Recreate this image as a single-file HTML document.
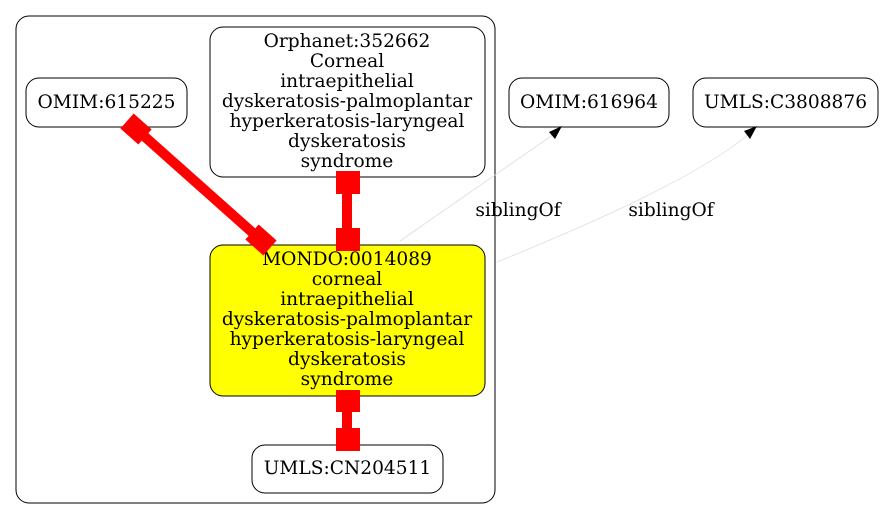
<!DOCTYPE html>
<html><head><style>
html,body{margin:0;padding:0;background:#fff;}
svg text{font-family:"DejaVu Serif",serif;font-size:18.6px;fill:#000;}
</style></head><body>
<svg width="885" height="520" viewBox="0 0 885 520" xmlns="http://www.w3.org/2000/svg">
<rect x="16" y="16" width="479" height="487" rx="13" fill="none" stroke="#000" stroke-width="1"/>
<rect x="26" y="78" width="161" height="49" rx="13" fill="#fff" stroke="#000"/>
<text x="106.5" y="108" text-anchor="middle">OMIM:615225</text>
<rect x="210" y="27" width="275" height="150" rx="13" fill="#fff" stroke="#000"/>
<g text-anchor="middle">
<text x="347" y="47">Orphanet:352662</text>
<text x="347" y="67">Corneal</text>
<text x="347" y="87">intraepithelial</text>
<text x="347" y="107">dyskeratosis-palmoplantar</text>
<text x="347" y="127">hyperkeratosis-laryngeal</text>
<text x="347" y="147">dyskeratosis</text>
<text x="347" y="167">syndrome</text>
</g>
<rect x="210" y="245" width="275" height="151" rx="13" fill="#ffff00" stroke="#000"/>
<g text-anchor="middle">
<text x="347" y="265">MONDO:0014089</text>
<text x="347" y="285">corneal</text>
<text x="347" y="305">intraepithelial</text>
<text x="347" y="325">dyskeratosis-palmoplantar</text>
<text x="347" y="345">hyperkeratosis-laryngeal</text>
<text x="347" y="365">dyskeratosis</text>
<text x="347" y="385">syndrome</text>
</g>
<rect x="252" y="445" width="191" height="48" rx="13" fill="#fff" stroke="#000"/>
<text x="347.5" y="474" text-anchor="middle">UMLS:CN204511</text>
<rect x="509" y="78" width="160" height="49" rx="13" fill="#fff" stroke="#000"/>
<text x="589" y="108" text-anchor="middle">OMIM:616964</text>
<rect x="693" y="78" width="185" height="49" rx="13" fill="#fff" stroke="#000"/>
<text x="785.5" y="108" text-anchor="middle">UMLS:C3808876</text>
<line x1="135" y1="128" x2="262" y2="241" stroke="#f00" stroke-width="10"/>
<rect x="-12" y="-10" width="24" height="20" fill="#f00" transform="translate(136,129) rotate(41.6)"/>
<rect x="-12" y="-10" width="24" height="20" fill="#f00" transform="translate(261,240) rotate(41.6)"/>
<line x1="347" y1="180" x2="347" y2="240" stroke="#f00" stroke-width="10"/>
<rect x="336" y="171" width="24" height="23" fill="#f00"/>
<rect x="336" y="228" width="24" height="23" fill="#f00"/>
<line x1="347" y1="400" x2="347" y2="440" stroke="#f00" stroke-width="10"/>
<rect x="336" y="390" width="24" height="22" fill="#f00"/>
<rect x="336" y="428" width="24" height="23" fill="#f00"/>
<path d="M400,241 L554,134" stroke="#ddd" stroke-width="0.8" fill="none"/>
<polygon points="562,126 549,132 555,139" fill="#000"/>
<path d="M497,262 C600,220 700,175 749,134" stroke="#ddd" stroke-width="0.8" fill="none"/>
<polygon points="757,126 744,131 750,139" fill="#000"/>
<text x="518" y="216" text-anchor="middle">siblingOf</text>
<text x="671" y="216" text-anchor="middle">siblingOf</text>
</svg>
</body></html>
